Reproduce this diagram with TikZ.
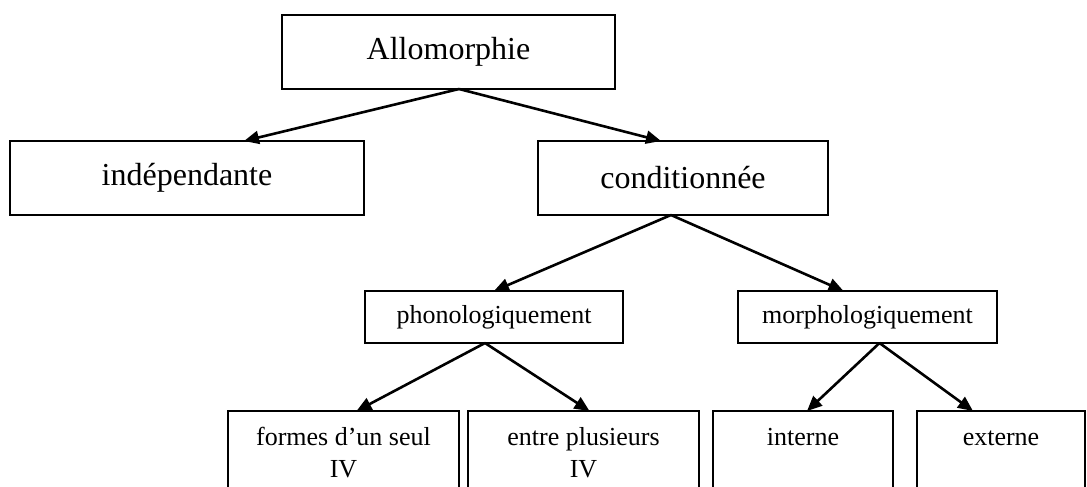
\documentclass[tikz,border=0pt]{standalone}
\usepackage{fontspec}
\setmainfont{Liberation Serif}
\usetikzlibrary{arrows.meta}
\begin{document}
\begin{tikzpicture}[x=1pt,y=-1pt,
  box/.style={draw, line width=2.2pt, inner sep=0pt, outer sep=0pt},
  bigtxt/.style={font=\fontsize{32}{36}\selectfont},
  midtxt/.style={font=\fontsize{26}{30}\selectfont},
  lowtxt/.style={font=\fontsize{26}{32}\selectfont, align=center, inner sep=0pt, anchor=north},
  arr/.style={line width=2.6pt, -{Triangle[length=15pt,width=13pt]}}]
\useasboundingbox (0,0) rectangle (1087,487);
\clip (0,0) rectangle (1087,487);
% level 0
\node[box, bigtxt, minimum width=333pt, minimum height=74pt] (A) at (448.5,52) {Allomorphie};
\coordinate (Ao) at ([xshift=10.5pt]A.south);
% level 1
\node[box, bigtxt, minimum width=354pt, minimum height=74pt] (ind) at (187,178) {indépendante};
\node[box, bigtxt, minimum width=290pt, minimum height=74pt] (cond) at (683,178) {conditionnée};
\coordinate (Co) at ([xshift=-12pt]cond.south);
% level 2
\node[box, midtxt, minimum width=258pt, minimum height=52pt] (phon) at (494,317) {phonologiquement};
\node[box, midtxt, minimum width=259pt, minimum height=52pt] (morph) at (867.5,317) {morphologiquement};
\coordinate (Po) at ([xshift=-9pt]phon.south);
\coordinate (Mo) at ([xshift=12pt]morph.south);
% level 3
\node[box, minimum width=231pt, minimum height=110pt] (f) at (343.5,466) {};
\node[box, minimum width=231pt, minimum height=110pt] (e) at (583.5,466) {};
\node[box, minimum width=180pt, minimum height=110pt] (i) at (803,466) {};
\node[box, minimum width=168pt, minimum height=110pt] (x) at (1001,466) {};
\node[lowtxt] (ft) at ([yshift=-12pt]f.north) {\strut formes d’un seul\\IV};
\node[lowtxt] (et) at ([yshift=-12pt]e.north) {\strut entre plusieurs\\IV};
\node[lowtxt] (it) at ([yshift=-12pt]i.north) {\strut interne};
\node[lowtxt] (xt) at ([yshift=-12pt]x.north) {\strut externe};
% connectors
\draw[arr] (Ao) -- ([xshift=57pt]ind.north);
\draw[arr] (Ao) -- ([xshift=-22pt]cond.north);
\draw[arr] (Co) -- (phon.north);
\draw[arr] (Co) -- ([xshift=-24pt]morph.north);
\draw[arr] (Po) -- ([xshift=13pt]f.north);
\draw[arr] (Po) -- ([xshift=6pt]e.north);
\draw[arr] (Mo) -- ([xshift=4pt]i.north);
\draw[arr] (Mo) -- ([xshift=-28pt]x.north);
\end{tikzpicture}
\end{document}
